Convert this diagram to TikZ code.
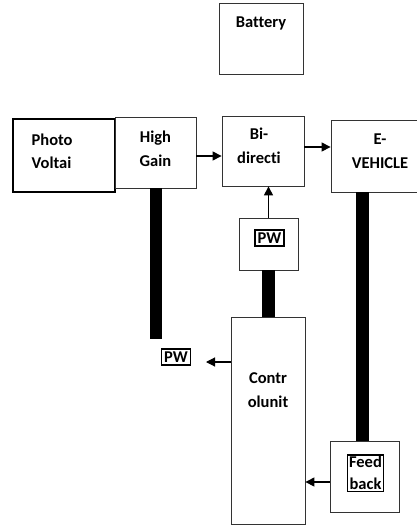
\documentclass[tikz,border=0pt]{standalone}
\usepackage{fontspec}
\setmainfont[Ligatures=NoCommon]{Carlito}
\usetikzlibrary{arrows.meta}

\begin{document}
\begin{tikzpicture}[x=1pt, y=-1pt, >={Triangle[length=9pt, width=9pt]}, line width=1.1pt,
  font=\bfseries\fontsize{16.5}{23.5}\selectfont,
  block/.style={draw=black!80, line width=0.8pt, rectangle, inner sep=0pt},
  txt/.style={align=center, inner sep=0pt},
  tag/.style={draw, line width=1.7pt, rectangle, inner xsep=2.5pt, inner ysep=2.5pt, align=center},
  bar/.style={line width=12.5pt}]

  \useasboundingbox (0,0) rectangle (417,525);

  % main blocks
  \node [block, minimum width=84pt, minimum height=71pt,
    label={[txt, anchor=base, yshift=-25pt]north:Battery}] (batt) at (261,38.5) {};
  \node [block, draw=black, line width=1.8pt, minimum width=102pt, minimum height=73pt,
    label={[txt, align=left, anchor=west, xshift=19pt, yshift=4pt]west:Photo\\Voltai}] (pv) at (64,155.5) {};
  \node [block, minimum width=81pt, minimum height=71pt,
    label={[txt, yshift=3.5pt]center:High\\Gain}] (gain) at (155.5,152.5) {};
  \node [block, minimum width=82pt, minimum height=70pt,
    label={[txt, xshift=-4pt, yshift=5pt]center:Bi-\\directi}] (bidir) at (263,151) {};
  \node [block, minimum width=98pt, minimum height=72pt,
    label={[txt, yshift=5pt]center:E-\\VEHICLE}] (ev) at (380,156) {};

  % pwm and control
  \node [block, minimum width=59pt, minimum height=52pt] (pwbox) at (268.5,244) {};
  \node [tag] (pwin) at (269.5,238) {PW};
  \node [block, minimum width=74pt, minimum height=207pt,
    label={[txt, anchor=north, yshift=-56pt]north:Contr\\olunit}] (ctrl) at (268,420.5) {};
  \node [tag] (pwout) at (176,357) {PW};

  % feedback
  \node [block, minimum width=69pt, minimum height=71pt] (fb) at (364.5,476.5) {};
  \node [tag, inner sep=1.5pt, font=\bfseries\fontsize{16.5}{22}\selectfont] (fbin) at (365.5,473) {Feed\\back};

  \coordinate (gainend) at (156,339);
  \coordinate (pwtip) at (206,362);

  % connectors
  \draw [->] ([yshift=-3.5pt]gain.east) -- ([yshift=-3.5pt]gain.east -| bidir.west);
  \draw [->] ([yshift=4pt]bidir.east) -- ([yshift=4pt]bidir.east -| ev.west);
  \draw [->] (pwbox.north) -- (pwbox.north |- bidir.south);
  \draw [->] (ctrl.west |- pwtip) -- (pwtip);
  \draw [->] ([yshift=-5.5pt]fb.west) -- ([yshift=-5.5pt]fb.west -| ctrl.east);

  % heavy links
  \draw [bar] (gainend |- gain.south) -- (gainend);
  \draw [bar] (pwbox.south) -- (pwbox.south |- ctrl.north);
  \draw [bar] ([xshift=-2pt]fb.north) -- ([xshift=-2pt]fb.north |- ev.south);
\end{tikzpicture}
\end{document}
